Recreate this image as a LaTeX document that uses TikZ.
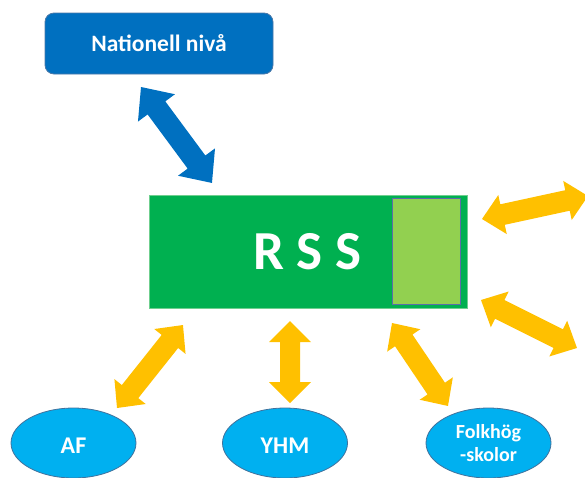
\documentclass[tikz,border=0pt]{standalone}
\usepackage{fontspec}
\setmainfont{Carlito}
\usetikzlibrary{calc,shapes.geometric}
\definecolor{natblue}{HTML}{0070C0}
\definecolor{natedge}{HTML}{4A78A8}
\definecolor{rssgreen}{HTML}{00B050}
\definecolor{rssedge}{HTML}{6FCF8F}
\definecolor{lightgreen}{HTML}{92D050}
\definecolor{lgedge}{HTML}{5A6EA8}
\definecolor{ellblue}{HTML}{00B0F0}
\definecolor{elledge}{HTML}{41719C}
\definecolor{arrowyellow}{HTML}{FFC000}
\definecolor{arrowblue}{HTML}{0070C0}
\tikzset{
  natbox/.style={rectangle, rounded corners=9pt, fill=natblue, draw=natedge, line width=0.8pt,
    minimum width=228pt, minimum height=61pt, inner sep=0pt, text=white,
    font=\fontsize{23.5}{28}\selectfont\bfseries},
  rssbox/.style={rectangle, fill=rssgreen, draw=rssedge, line width=0.8pt,
    minimum width=318pt, minimum height=113pt, inner sep=0pt},
  innerbox/.style={rectangle, fill=lightgreen, draw=lgedge, line width=1pt,
    minimum width=68pt, minimum height=106pt, inner sep=0pt},
  rsslabel/.style={text=white, inner sep=0pt, font=\fontsize{55}{60}\selectfont\bfseries},
  ellnode/.style={ellipse, fill=ellblue, draw=elledge, line width=0.8pt,
    minimum width=125pt, minimum height=70pt, inner sep=0pt, text=white,
    font=\fontsize{24}{28}\selectfont\bfseries},
  yarrow/.style={fill=arrowyellow},
  barrow/.style={fill=arrowblue},
}
% #1 style, #2 from, #3 to, #4 half shaft width, #5 half head width, #6 head length
\newcommand\blockarrow[6]{%
  \fill[#1] let \p1=(#2), \p2=(#3),
    \n1={atan2(\y2-\y1,\x2-\x1)}, \n2={veclen(\x2-\x1,\y2-\y1)} in
    [shift={(\p1)}, rotate=\n1]
    (0,0) -- (#6,#5) -- (#6,#4) -- ({\n2-#6},#4) -- ({\n2-#6},#5) -- ({\n2},0)
    -- ({\n2-#6},-#5) -- ({\n2-#6},-#4) -- (#6,-#4) -- (#6,-#5) -- cycle;
}
\begin{document}
\begin{tikzpicture}[x=1pt,y=-1pt]
\useasboundingbox (0,0) rectangle (585,477);
\clip (0,0) rectangle (585,477);

\node[natbox] (nat) at (159,43.5) {Nationell nivå};
\node[rssbox] (rss) at (308,251.5) {};
\node[innerbox] (inner) at (426,251) {};
\node[rsslabel] (rsst) at (307.5,252) {R S S};

\node[ellnode, text height=21pt, text depth=0pt] (af) at (73.5,443) {AF};
\node[ellnode, text height=21pt, text depth=0pt] (yhm) at (285,443) {YHM};
\node[ellnode, align=center, font=\fontsize{20}{24}\selectfont\bfseries] (folk) at (488.5,443) {Folkhög\\[-1pt]-skolor};

% arrow end points
\coordinate (b1) at (141,87);
\coordinate (b2) at (212,183);
\coordinate (a1) at (117,408);
\coordinate (a2) at (183,325);
\coordinate (y1) at (290,321);
\coordinate (y2) at (290,403);
\coordinate (f1) at (392,323);
\coordinate (f2) at (448,406);
\coordinate (u1) at (482,219);
\coordinate (u2) at (588,196);
\coordinate (l1) at (481,300);
\coordinate (l2) at (577,348);

\blockarrow{barrow}{b1}{b2}{11}{23}{26}
\blockarrow{yarrow}{a1}{a2}{10.5}{20}{21}
\blockarrow{yarrow}{y1}{y2}{10}{21}{21}
\blockarrow{yarrow}{f1}{f2}{10.5}{20}{21}
\blockarrow{yarrow}{u1}{u2}{10.5}{20}{21}
\blockarrow{yarrow}{l1}{l2}{10.5}{20}{21}
\end{tikzpicture}
\end{document}
